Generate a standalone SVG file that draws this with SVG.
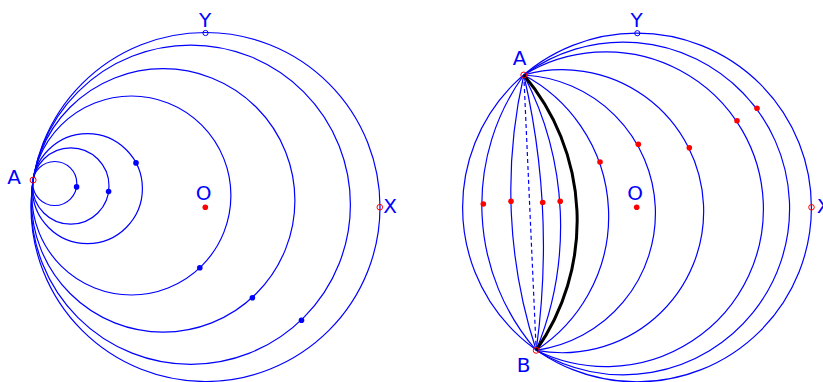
<svg xmlns="http://www.w3.org/2000/svg" width="823" height="382" viewBox="0 0 823 382">
<style>
.c{fill:none;stroke:#0000ff;stroke-width:1.2}
.bk{fill:none;stroke:#000;stroke-width:3}
.dash{fill:none;stroke:#0000ff;stroke-width:1.2;stroke-dasharray:4 3}
.bd{fill:#0000ff}
.rd{fill:#ff0000}
.ro{fill:none;stroke:#ff0000;stroke-width:1}
.bo{fill:none;stroke:#0000ff;stroke-width:1}
.t{font-family:"DejaVu Sans",sans-serif;font-size:20px;fill:#0000ff;text-anchor:middle}
</style>
<rect width="823" height="382" fill="#fff"/>
<g id="left">
  <g id="left-circles">
    <circle class="c" cx="54.8" cy="183.5" r="22"/>
    <circle class="c" cx="70.8" cy="186.0" r="38.2"/>
    <circle class="c" cx="87.4" cy="188.6" r="55"/>
    <circle class="c" cx="131.4" cy="195.5" r="99.5"/>
    <circle class="c" cx="163.2" cy="200.4" r="131.7"/>
    <circle class="c" cx="190.8" cy="204.7" r="159.6"/>
    <circle class="c" cx="205.5" cy="207" r="174.5"/>
  </g>
  <g id="left-dots">
    <circle class="bd" cx="76.6" cy="186.9" r="2.8"/>
    <circle class="bd" cx="108.6" cy="191.5" r="2.8"/>
    <circle class="bd" cx="136" cy="162.9" r="2.8"/>
    <circle class="bd" cx="199.8" cy="267.8" r="2.8"/>
    <circle class="bd" cx="252.4" cy="297.7" r="2.8"/>
    <circle class="bd" cx="301.5" cy="320.3" r="2.8"/>
    <circle class="rd" cx="205.3" cy="207.3" r="2.8"/>
  </g>
  <g id="left-markers">
    <circle class="ro" cx="33.1" cy="180.1" r="3"/>
    <circle class="bo" cx="205.5" cy="33" r="2.6"/>
    <circle class="ro" cx="379.8" cy="207.2" r="2.8"/>
  </g>
  <g id="left-labels">
    <text class="t" x="14" y="183.5">A</text>
    <text class="t" x="205" y="26.5">Y</text>
    <text class="t" x="203.5" y="200">O</text>
    <text class="t" x="390" y="213.3">X</text>
  </g>
</g>
<g id="right">
  <g id="connectors">
    <circle class="c" cx="637" cy="207.5" r="174.4"/>
    <path class="c" d="M523.8,75 A221.8,221.8 0 0 0 536.2,350.3"/>
    <path class="c" d="M523.8,75 A517.1,517.1 0 0 0 536.2,350.3"/>
    <path class="dash" d="M523.8,75 L536.2,350.3"/>
    <path class="c" d="M523.8,75 A759.8,759.8 0 0 1 536.2,350.3"/>
    <path class="c" d="M523.8,75 A328.5,328.5 0 0 1 536.2,350.3"/>
    <path class="c" d="M523.8,75 A160.1,160.1 0 0 1 536.2,350.3"/>
    <path class="c" d="M523.8,75 A138.4,138.4 0 0 1 536.2,350.3"/>
    <path class="c" d="M523.8,75 A141.5,141.5 0 1 1 536.2,350.3"/>
    <path class="c" d="M523.8,75 A157.4,157.4 0 1 1 536.2,350.3"/>
    <path class="c" d="M523.8,75 A166.4,166.4 0 1 1 536.2,350.3"/>
    <path class="bk" d="M523.8,75 A225.5,225.5 0 0 1 536.2,350.3"/>
  </g>
  <g id="right-dots">
    <circle class="rd" cx="483.3" cy="204" r="2.8"/>
    <circle class="rd" cx="511" cy="201.3" r="2.8"/>
    <circle class="rd" cx="542.7" cy="202.5" r="2.8"/>
    <circle class="rd" cx="560.2" cy="201.3" r="2.8"/>
    <circle class="rd" cx="600" cy="162" r="2.8"/>
    <circle class="rd" cx="638.3" cy="144.3" r="2.8"/>
    <circle class="rd" cx="689.3" cy="147.7" r="2.8"/>
    <circle class="rd" cx="737" cy="120.7" r="2.8"/>
    <circle class="rd" cx="757" cy="108.3" r="2.8"/>
    <circle class="rd" cx="636.7" cy="207.3" r="2.8"/>
  </g>
  <g id="right-markers">
    <circle class="ro" cx="523.8" cy="75" r="3"/>
    <circle class="ro" cx="536.2" cy="350.3" r="3"/>
    <circle class="bo" cx="637.3" cy="33.2" r="2.6"/>
    <circle class="ro" cx="811.5" cy="207.3" r="2.8"/>
  </g>
  <g id="right-labels">
    <text class="t" x="519.5" y="65">A</text>
    <text class="t" x="523.5" y="372">B</text>
    <text class="t" x="636.7" y="26.5">Y</text>
    <text class="t" x="635" y="200">O</text>
    <text class="t" x="823.5" y="213.3">X</text>
  </g>
</g>
</svg>
